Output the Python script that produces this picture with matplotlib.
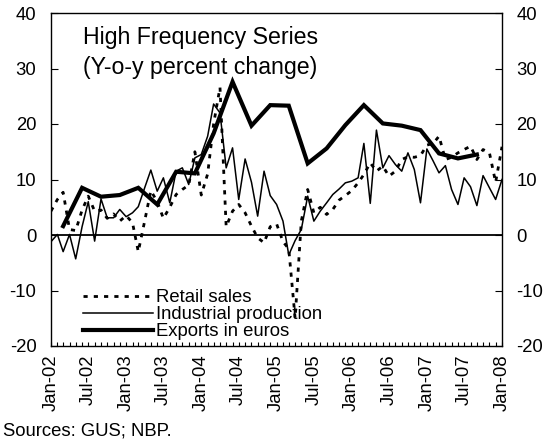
import numpy as np
import pandas as pd
import matplotlib
matplotlib.use("Agg")
import matplotlib.pyplot as plt
import matplotlib.dates as mdates

plt.rcParams['font.family'] = ['Liberation Sans', 'DejaVu Sans']
plt.rcParams['axes.unicode_minus'] = False

# monthly series, Jan-02 .. Jan-08
months = pd.date_range('2002-01-01', '2008-01-01', freq='MS')

retail_sales = [4.3, 6.4, 7.7, 1.0, 0.8, 4.5, 7.0, 4.3, 4.5, 3.0, 3.8, 2.5,
                3.5, 2.2, -3.0, 2.5, 8.0, 6.0, 3.0, 5.0, 7.3, 8.2, 9.0, 15.0,
                7.2, 11.0, 20.0, 26.6, 1.5, 4.3, 5.5, 4.0, 1.6, -0.5, -1.4, 1.5,
                2.0, -1.2, -2.5, -15.0, 2.5, 8.2, 4.0, 5.0, 3.7, 4.6, 6.3, 7.1,
                8.0, 9.4, 10.9, 13.0, 11.5, 12.4, 10.6, 11.5, 13.6, 14.1, 14.0, 14.3,
                16.2, 16.5, 17.8, 13.6, 14.0, 14.8, 15.4, 16.0, 13.6, 15.4, 14.8, 9.5,
                15.9]

industrial_prod = [-1.2, 0.1, -3.0, 0.1, -4.3, 1.5, 6.0, -1.1, 6.5, 3.1, 3.1, 4.6,
                   3.3, 4.0, 5.1, 8.5, 11.7, 7.9, 10.3, 5.8, 11.5, 12.1, 9.1, 13.9,
                   14.5, 17.8, 23.6, 22.0, 12.1, 15.7, 6.4, 13.7, 9.5, 3.4, 11.5, 7.1,
                   5.5, 2.5, -3.6, -1.0, 1.0, 7.0, 2.5, 4.3, 5.8, 7.3, 8.3, 9.4,
                   9.7, 10.3, 16.5, 5.7, 18.9, 12.1, 14.3, 12.7, 11.5, 14.8, 11.8, 5.8,
                   15.5, 13.3, 11.2, 12.5, 8.2, 5.5, 10.3, 8.7, 5.3, 10.7, 8.5, 6.4,
                   10.0]

# quarterly exports, Mar-02 .. Sep-07
quarters = pd.date_range('2002-03-01', '2007-09-01', freq='3MS')
exports_eur = [1.6, 8.5, 6.9, 7.2, 8.5, 5.5, 11.4, 11.1, 18.3, 27.6, 19.7, 23.4,
               23.3, 12.9, 15.6, 19.8, 23.4, 20.1, 19.7, 18.9, 14.7, 13.8, 14.5]

fig = plt.figure(figsize=(5.43, 4.42), dpi=100)
ax = fig.add_axes([51/543, 1-346/442, 451/543, 333/442])

ax.axhline(0, color='black', lw=1.3, zorder=1)
ax.plot(months, retail_sales, color='black', lw=2, linestyle=(0, (1.5, 2.2)),
        label='Retail sales', zorder=3)
ax.plot(months, industrial_prod, color='black', lw=1.1, label='Industrial production', zorder=3)
ax.plot(quarters, exports_eur, color='black', lw=3, label='Exports in euros', zorder=4,
        solid_joinstyle='miter')

ax.set_xlim(months[0], months[-1])
ax.set_ylim(-20, 40)
ax.set_yticks(range(-20, 41, 10))

ax.xaxis.set_major_locator(mdates.MonthLocator(bymonth=[1, 7]))
ax.xaxis.set_minor_locator(mdates.MonthLocator())
ax.xaxis.set_major_formatter(mdates.DateFormatter('%b-%y'))
for lab in ax.get_xticklabels():
    lab.set_rotation(90)

ax.tick_params(axis='x', which='both', direction='in', length=3, width=0.8,
               labelsize=13.3, pad=6)
ax.tick_params(axis='y', direction='in', length=5, width=0.8, labelsize=13.3,
               pad=10.5, right=True, labelright=True)
for s in ax.spines.values():
    s.set_linewidth(1)

fig.text(83/543, 1-44/442, 'High Frequency Series', fontsize=16.7, va='baseline')
fig.text(83/543, 1-74/442, '(Y-o-y percent change)', fontsize=16.7, va='baseline')
fig.text(3/543, 1-435/442, 'Sources: GUS; NBP.', fontsize=13.3, va='baseline')

leg = ax.legend(loc='lower left', bbox_to_anchor=(0.055, -0.005), frameon=False,
                fontsize=13.3, handlelength=3.8, handletextpad=0.15,
                labelspacing=0.0, borderaxespad=0)

fig.savefig('out.png', dpi=100)
